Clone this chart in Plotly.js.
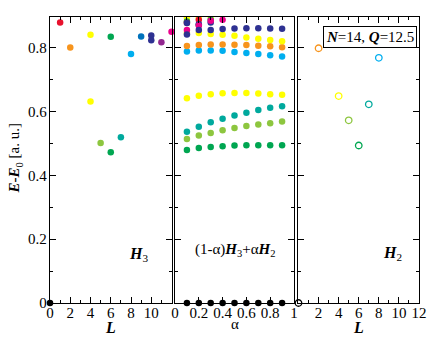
<!DOCTYPE html>
<html>
<head>
<meta charset="utf-8">
<script src="https://cdn.plot.ly/plotly-3.0.1.min.js"></script>
<style>
  html, body { margin: 0; padding: 0; background: #fff; }
  #chart { width: 436px; height: 337px; }
</style>
</head>
<body>
<div id="chart"></div>
<script>
// colour of each level (state family)
const palette = {
    black: '#000000', red: '#e8112d', orange: '#f7941d', yellow: '#ffff00',
    ygreen: '#8dc63f', green: '#00a651', teal: '#00a99d', lblue: '#00aeef',
    blue: '#0072bc', navy: '#2e3192', purple: '#92278f', magenta: '#ec008c'
};

// left panel: pure H3 spectrum
const lH3 = [0, 1, 2, 4, 4, 5, 6, 6, 7, 8, 9, 10, 10, 11, 12];
const eH3 = [0, 0.880, 0.801, 0.841, 0.632, 0.502, 0.835, 0.473, 0.520, 0.781, 0.836, 0.839, 0.824, 0.818, 0.851];
const kH3 = ['black', 'red', 'orange', 'yellow', 'yellow', 'ygreen', 'green', 'green', 'teal', 'lblue', 'blue', 'navy', 'navy', 'purple', 'magenta'];

// middle panel: interpolation (1-a)H3 + aH2
const alpha = [0.1, 0.2, 0.3, 0.4, 0.5, 0.6, 0.7, 0.8, 0.9];
const mixGround = [0, 0, 0, 0, 0, 0, 0, 0, 0];
const mixGreen = [0.480, 0.486, 0.489, 0.492, 0.494, 0.495, 0.495, 0.495, 0.495];
const mixYGreen = [0.514, 0.525, 0.533, 0.542, 0.549, 0.555, 0.560, 0.564, 0.569];
const mixTeal = [0.537, 0.553, 0.567, 0.578, 0.588, 0.597, 0.605, 0.612, 0.617];
const mixYellow = [0.642, 0.650, 0.655, 0.658, 0.659, 0.659, 0.657, 0.655, 0.653];
const mixLBlue = [0.789, 0.792, 0.792, 0.791, 0.787, 0.784, 0.781, 0.777, 0.773];
const mixOrange = [0.806, 0.809, 0.811, 0.811, 0.810, 0.809, 0.807, 0.805, 0.802];
const mixYellowHi = [0.847, 0.847, 0.844, 0.841, 0.838, 0.833, 0.829, 0.825, 0.821];
const mixYellowTop = [0.894, 0.894, 0.896, null, null, null, null, null, null];
const mixGreenHi = [0.883, 0.872, 0.888, null, null, null, null, null, null];
const mixRed = [0.879, 0.888, null, null, null, null, null, null, null];
const mixMagenta = [0.856, 0.870, 0.885, 0.888, null, null, null, null, null];
const mixNavyHi = [0.878, 0.874, 0.880, null, null, null, null, null, null];
const mixNavy = [0.842, 0.856, 0.856, 0.859, 0.861, 0.862, 0.862, 0.861, 0.860];

// right panel: pure H2 spectrum
const lH2 = [0, 2, 4, 5, 6, 7, 8];
const eH2 = [0, 0.799, 0.649, 0.573, 0.494, 0.623, 0.769];
const kH2 = ['black', 'orange', 'yellow', 'ygreen', 'green', 'teal', 'lblue'];

const serif = 'Liberation Serif, Times New Roman, serif';
const yMax = 0.897;

function mixTrace(values, key, clip) {
    return {
        x: alpha, y: values, xaxis: 'x2', yaxis: 'y2',
        type: 'scatter', mode: 'markers', cliponaxis: clip,
        marker: { size: 6.5, color: palette[key] },
        hoverinfo: 'skip'
    };
}

const traces = [
    {
        x: lH3, y: eH3, xaxis: 'x', yaxis: 'y', type: 'scatter', mode: 'markers',
        cliponaxis: false,
        marker: { size: 6.5, color: kH3.map(k => palette[k]) }
    },
    mixTrace(mixGround, 'black', false),
    mixTrace(mixGreen, 'green', true),
    mixTrace(mixYGreen, 'ygreen', true),
    mixTrace(mixTeal, 'teal', true),
    mixTrace(mixYellow, 'yellow', true),
    mixTrace(mixLBlue, 'lblue', true),
    mixTrace(mixOrange, 'orange', true),
    mixTrace(mixYellowTop, 'yellow', true),
    mixTrace(mixYellowHi, 'yellow', true),
    mixTrace(mixGreenHi, 'green', true),
    mixTrace(mixRed, 'red', true),
    mixTrace(mixNavyHi, 'navy', true),
    mixTrace(mixMagenta, 'magenta', true),
    mixTrace(mixNavy, 'navy', true),
    {
        x: lH2, y: eH2, xaxis: 'x3', yaxis: 'y3', type: 'scatter', mode: 'markers',
        cliponaxis: false,
        marker: {
            size: 6.5, symbol: 'circle-open', color: kH2.map(k => palette[k]),
            line: { width: 1.3 }
        }
    }
];

function xAxis(domain, range, vals, text, minorVals, anchor) {
    return {
        domain: domain, range: range, anchor: anchor,
        tickmode: 'array', tickvals: vals, ticktext: text,
        ticks: 'inside', ticklen: 6, tickwidth: 1, tickcolor: '#000',
        minor: { ticks: 'inside', ticklen: 3, tickvals: minorVals, tickcolor: '#000' },
        showline: true, linecolor: '#000', linewidth: 1.2, mirror: 'allticks',
        showgrid: false, zeroline: false, ticklabelstandoff: -4,
        tickfont: { family: serif, size: 15, color: '#000' }
    };
}

function yAxis(anchor, labels) {
    return {
        domain: [0, 1], range: [0, yMax], anchor: anchor,
        tickmode: 'array', tickvals: [0, 0.2, 0.4, 0.6, 0.8],
        ticktext: ['0', '0.2', '0.4', '0.6', '0.8'], showticklabels: labels,
        ticks: 'inside', ticklen: 6, tickwidth: 1, tickcolor: '#000',
        minor: { ticks: 'inside', ticklen: 3, tickvals: [0.1, 0.3, 0.5, 0.7], tickcolor: '#000' },
        showline: true, linecolor: '#000', linewidth: 1.2, mirror: 'allticks',
        showgrid: false, zeroline: false, ticklabelstandoff: -1,
        tickfont: { family: serif, size: 15, color: '#000' }
    };
}

function label(x, y, text, size, extra) {
    return Object.assign({
        xref: 'paper', yref: 'paper', x: x, y: y, text: text, showarrow: false,
        xanchor: 'center', yanchor: 'middle',
        font: { family: serif, size: size, color: '#000' }
    }, extra || {});
}

const intL = [0, 2, 4, 6, 8, 10, 12];
const oddL = [1, 3, 5, 7, 9, 11];

const layout = {
    width: 436, height: 337,
    margin: { l: 50, r: 17, t: 17, b: 34 },
    paper_bgcolor: '#fff', plot_bgcolor: '#fff',
    showlegend: false,
    xaxis: xAxis([0, 0.3293], [0, 12], intL, ['0', '2', '4', '6', '8', '10', ''], oddL, 'y'),
    xaxis2: xAxis([0.3388, 0.6612], [0, 1], [0, 0.2, 0.4, 0.6, 0.8, 1],
        ['0', '0.2', '0.4', '0.6', '0.8', '1'], [0.1, 0.3, 0.5, 0.7, 0.9], 'y2'),
    xaxis3: xAxis([0.6734, 1], [0, 12], intL, ['', '2', '4', '6', '8', '10', '12'], oddL, 'y3'),
    yaxis: yAxis('x', true),
    yaxis2: yAxis('x2', false),
    yaxis3: yAxis('x3', false),
    annotations: [
        label(-0.095, 0.505, '<b><i>E</i>-<i>E</i></b><sub>0</sub> [a. u.]', 15, { textangle: -90 }),
        label(0.164, -0.085, '<b><i>L</i></b>', 16),
        label(0.5, -0.072, 'α', 15),
        label(0.837, -0.085, '<b><i>L</i></b>', 16),
        label(0.241, 0.168, '<b><i>H</i></b><sub>3</sub>', 16),
        label(0.503, 0.185, '(1-α)<b><i>H</i></b><sub>3</sub>+α<b><i>H</i></b><sub>2</sub>', 15),
        label(0.927, 0.172, '<b><i>H</i></b><sub>2</sub>', 16),
        label(0.867, 0.931, '<b><i>N</i></b>=14, <b><i>Q</i></b>=12.5', 15,
            { bgcolor: '#fff', bordercolor: '#000', borderwidth: 1, borderpad: 2 })
    ]
};

Plotly.newPlot('chart', traces, layout, { staticPlot: true })
    .catch((error) => {
        console.error('Error rendering plot:', error);
    });
</script>
</body>
</html>
